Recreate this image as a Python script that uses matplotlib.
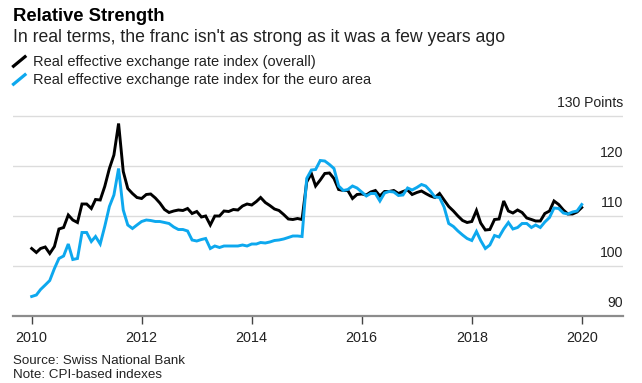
import matplotlib
matplotlib.use('Agg')
import matplotlib.pyplot as plt
import matplotlib.lines as mlines
import pandas as pd

plt.rcParams['font.family'] = ['Liberation Sans', 'DejaVu Sans']

# monthly, Jan 2010 .. Jan 2020
months = pd.date_range('2010-01-01', '2020-01-01', freq='MS')

reer_overall = [
    103.5, 102.7, 103.5, 103.8, 102.5, 103.9, 107.4, 107.7, 110.2, 109.2, 108.7, 112.4,  # 2010
    112.4, 111.5, 113.3, 113.2, 115.9, 119.5, 122.2, 128.5, 118.9, 115.5, 114.5, 113.7,  # 2011
    113.5, 114.3, 114.4, 113.6, 112.6, 111.3, 110.7, 111.0, 111.2, 111.1, 111.5, 110.5,  # 2012
    110.9, 109.8, 110.0, 108.2, 110.0, 110.0, 111.0, 110.9, 111.3, 111.2, 112.0, 112.4,  # 2013
    112.2, 112.9, 113.7, 112.7, 112.1, 111.4, 111.1, 110.3, 109.4, 109.3, 109.5, 109.3,  # 2014
    116.8, 118.5, 116.0, 117.2, 118.5, 118.6, 117.5, 115.3, 115.1, 115.1, 113.5, 114.3,  # 2015
    114.4, 114.2, 114.8, 115.1, 114.0, 114.9, 114.9, 115.1, 114.5, 114.9, 115.2, 114.3,  # 2016
    114.7, 115.0, 114.5, 114.0, 113.7, 114.5, 113.2, 111.9, 111.0, 110.0, 109.1, 108.7,  # 2017
    108.9, 111.1, 108.6, 107.2, 107.3, 109.3, 109.4, 113.0, 111.0, 110.6, 111.2, 110.7,  # 2018
    109.6, 109.3, 109.0, 109.0, 110.5, 111.0, 113.0, 112.3, 111.2, 110.4, 110.4, 110.8,  # 2019
    111.7,
]

reer_euro = [
    93.9, 94.2, 95.3, 96.2, 97.1, 99.5, 101.5, 102.0, 104.4, 101.3, 101.5, 106.7,
    106.7, 104.9, 105.9, 104.4, 107.9, 111.9, 114.2, 119.5, 111.2, 108.2, 107.5, 108.2,
    108.9, 109.2, 109.1, 108.9, 108.9, 108.7, 108.5, 107.8, 107.3, 107.3, 107.0, 105.2,
    105.0, 105.3, 105.5, 103.5, 104.0, 103.7, 104.0, 104.0, 104.0, 104.0, 104.2, 104.0,
    104.4, 104.4, 104.7, 104.6, 104.8, 105.1, 105.2, 105.4, 105.7, 106.0, 106.0, 105.9,
    117.5, 119.2, 119.3, 121.1, 121.0, 120.3, 119.5, 116.0, 115.1, 115.3, 116.0, 115.6,
    114.8, 114.0, 114.5, 114.5, 113.0, 114.6, 114.9, 114.8, 114.1, 114.2, 115.6, 115.2,
    115.7, 116.3, 116.0, 115.0, 113.8, 113.7, 111.8, 108.5, 107.9, 107.0, 106.2, 105.5,
    105.1, 106.9, 105.1, 103.5, 104.2, 106.1, 105.8, 107.4, 108.7, 107.4, 107.7, 108.5,
    108.5, 107.7, 108.2, 107.7, 108.8, 109.7, 111.6, 111.5, 110.6, 110.4, 110.8, 111.0,
    112.3,
]

tick_years = [2010, 2012, 2014, 2016, 2018, 2020]
y_ticks = [90, 100, 110, 120, 130]
y_labels = ['90', '100', '110', '120', '130 Points']

BLUE = '#0DA8EE'
W, H = 642, 383

fig = plt.figure(figsize=(W / 100, H / 100), dpi=100)
ax = fig.add_axes([13 / W, 67 / H, 610 / W, 201.5 / H])

ax.plot(months, reer_overall, color='black', lw=2.1, solid_joinstyle='miter')
ax.plot(months, reer_euro, color=BLUE, lw=2.1, solid_joinstyle='miter')

ax.set_ylim(90, 130.3)
ax.set_xlim(pd.Timestamp('2010-01-01') - pd.Timedelta(days=124),
            pd.Timestamp('2020-01-01') + pd.Timedelta(days=274))

ax.set_yticks(y_ticks)
ax.yaxis.grid(True, color='#dcdcdc', lw=1.0)
ax.set_axisbelow(True)
ax.tick_params(axis='y', length=0, labelleft=False)
for v, lab in zip(y_ticks, y_labels):
    ax.annotate(lab, xy=(1, v), xycoords=('axes fraction', 'data'),
                xytext=(0, 6.3), textcoords='offset points',
                ha='right', va='baseline', fontsize=10.1, color='#222222')

ax.set_xticks([pd.Timestamp(f'{y}-01-01') for y in tick_years])
ax.set_xticklabels([str(y) for y in tick_years])
ax.tick_params(axis='x', length=6, width=1, color='#444444', pad=5,
               labelsize=10.4, labelcolor='#222222')

for s in ['top', 'left', 'right']:
    ax.spines[s].set_visible(False)
ax.spines['bottom'].set_color('#8c8c8c')
ax.spines['bottom'].set_linewidth(1.6)

# header
fig.text(13 / W, 1 - 20.7 / H, 'Relative Strength', fontsize=13.3,
         fontweight='bold', va='baseline', ha='left')
fig.text(13 / W, 1 - 41.7 / H,
         "In real terms, the franc isn't as strong as it was a few years ago",
         fontsize=12.7, va='baseline', ha='left', color='#222222')

# legend
legend_items = [('Real effective exchange rate index (overall)', 'black'),
                ('Real effective exchange rate index for the euro area', BLUE)]
for k, (lab, col) in enumerate(legend_items):
    base = 65.7 + 18 * k
    fig.lines.append(mlines.Line2D([13.5 / W, 25 / W],
                                   [1 - (base + 0.5) / H, 1 - (base - 9) / H],
                                   color=col, lw=2.3, transform=fig.transFigure))
    fig.text(33 / W, 1 - base / H, lab, fontsize=10.5, va='baseline',
             ha='left', color='#222222')

# footer
fig.text(13 / W, 1 - 364 / H, 'Source: Swiss National Bank', fontsize=9.6,
         va='baseline', ha='left', color='#222222')
fig.text(13 / W, 1 - 377.5 / H, 'Note: CPI-based indexes', fontsize=9.6,
         va='baseline', ha='left', color='#222222')

fig.savefig('out.png', dpi=100)
